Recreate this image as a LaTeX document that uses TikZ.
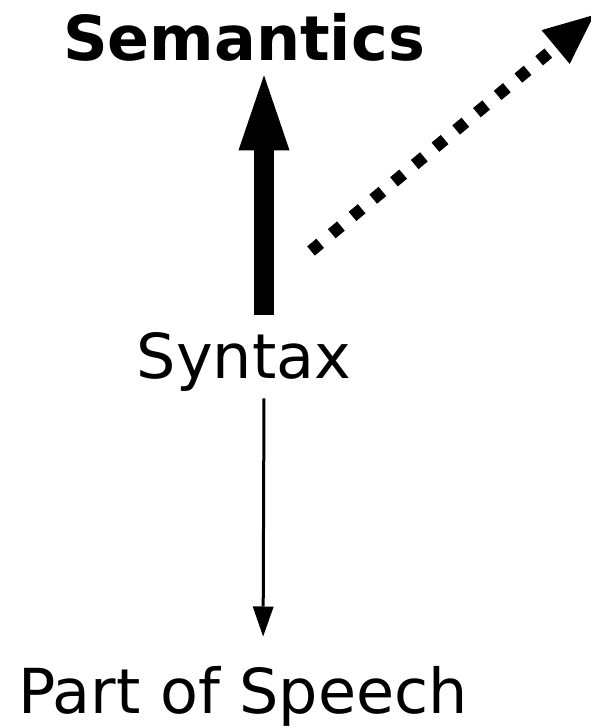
\documentclass[tikz,border=0pt]{standalone}
\usepackage{fontspec}
\setmainfont{DejaVu Sans}
\usetikzlibrary{arrows.meta}

\begin{document}
\begin{tikzpicture}[
  x=0.5pt, y=-0.5pt,
  lbl/.style={inner sep=0pt, anchor=base,
              font=\fontsize{31}{37}\selectfont},
  bigarr/.style={line width=10pt,
                 -{Triangle[width=25.5pt, length=37.5pt, line width=0pt]}},
  thinarr/.style={line width=1.5pt,
                  -{Triangle[width=10.5pt, length=15pt, line width=0pt]}},
  dotarr/.style={line width=6pt, dash pattern=on 6pt off 7.5pt,
                 -{Triangle[width=22pt, length=25pt, line width=0pt]}},
]
  \useasboundingbox (0,0) rectangle (590,728);

  %% Levels, top to bottom
  \node[lbl, font=\fontsize{31}{37}\selectfont\bfseries] (sem) at (244,61) {Semantics};
  \node[lbl] (syn) at (244,378) {Syntax};
  \node[lbl] (pos) at (243,713) {Part of Speech};

  %% Free ends of the dotted arrow
  \coordinate (dotfrom) at (311,251);
  \coordinate (dotto) at (594,15);

  %% Arrows
  \draw[bigarr, shorten <=8.5pt, shorten >=6.5pt]
    ([xshift=10pt]syn.north) -- ([xshift=10pt]sem.south);
  \draw[thinarr, shorten <=3.5pt, shorten >=14.5pt]
    ([xshift=10pt]syn.south) -- ([xshift=10pt]pos.north);
  \draw[dotarr] (dotfrom) -- (dotto);
\end{tikzpicture}
\end{document}
